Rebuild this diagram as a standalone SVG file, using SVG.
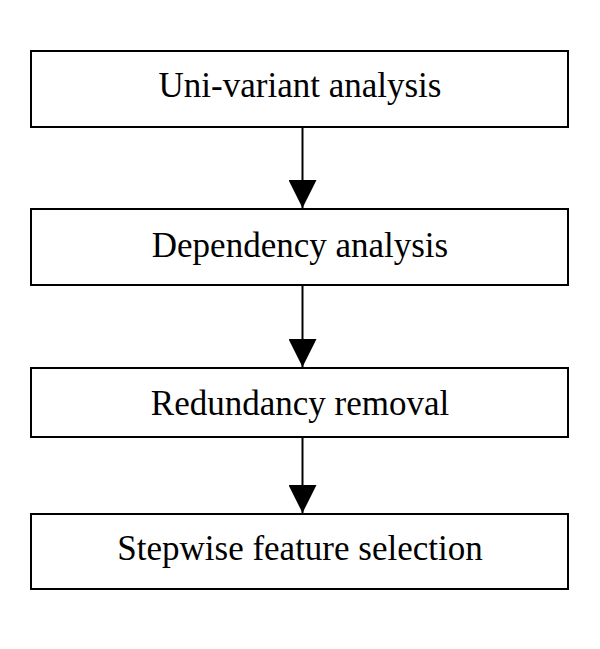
<svg xmlns="http://www.w3.org/2000/svg" width="600" height="649" viewBox="0 0 600 649">
<style>
.box{fill:#fff;stroke:#000;stroke-width:2}
.lbl{font-family:"Liberation Serif","Times New Roman",serif;font-size:35px;fill:#000;text-anchor:middle}
.conn{stroke:#000;stroke-width:2;fill:none}
</style>
<defs>
<marker id="ah" markerUnits="userSpaceOnUse" markerWidth="30" markerHeight="28" refX="28" refY="14" orient="auto" viewBox="0 0 28 28">
<path d="M0,0 L28,14 L0,28 Z" fill="#000"/>
</marker>
</defs>
<rect width="600" height="649" fill="#fff"/>
<g id="n1"><rect class="box" x="31" y="51" width="537" height="76"/><text class="lbl" x="300" y="97">Uni-variant analysis</text></g>
<g id="n2"><rect class="box" x="31" y="209" width="537" height="76"/><text class="lbl" x="300" y="256.5">Dependency analysis</text></g>
<g id="n3"><rect class="box" x="31" y="368" width="537" height="69"/><text class="lbl" x="300" y="415">Redundancy removal</text></g>
<g id="n4"><rect class="box" x="31" y="514" width="537" height="75"/><text class="lbl" x="300" y="559.5">Stepwise feature selection</text></g>
<g id="connectors">
<line class="conn" x1="302.5" y1="127" x2="302.5" y2="208" marker-end="url(#ah)"/>
<line class="conn" x1="302.5" y1="285" x2="302.5" y2="367" marker-end="url(#ah)"/>
<line class="conn" x1="302.5" y1="437" x2="302.5" y2="513" marker-end="url(#ah)"/>
</g>
</svg>
